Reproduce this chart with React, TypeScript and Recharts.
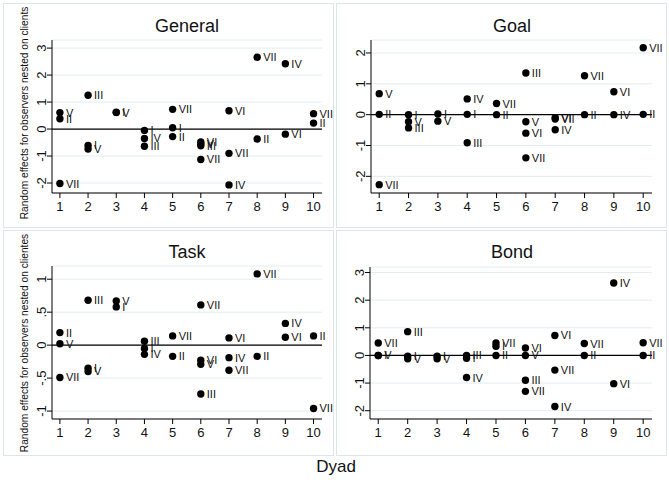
import React from "react";
import {
  ScatterChart,
  Scatter,
  XAxis,
  YAxis,
  CartesianGrid,
  ReferenceLine,
} from "recharts";

// ---------- data ----------
const dyadTicks = [1, 2, 3, 4, 5, 6, 7, 8, 9, 10];

const generalDyad = [1, 1, 1, 2, 2, 2, 3, 3, 4, 4, 4, 5, 5, 5, 6, 6, 6, 6, 7, 7, 7, 8, 8, 9, 9, 10, 10];
const generalValue = [0.61, 0.38, -2.02, 1.25, -0.61, -0.74, 0.62, 0.61, -0.05, -0.35, -0.64, 0.73, 0.05, -0.28, -0.48, -0.55, -0.62, -1.13, 0.68, -0.9, -2.07, 2.66, -0.37, 2.42, -0.19, 0.57, 0.22];
const generalObserver = ["V", "II", "VII", "III", "I", "V", "I", "V", "I", "IV", "III", "VII", "I", "II", "VI", "V", "III", "VII", "VI", "VII", "IV", "VII", "II", "IV", "VI", "VII", "II"];

const goalDyad = [1, 1, 1, 2, 2, 2, 3, 3, 4, 4, 4, 5, 5, 6, 6, 6, 6, 7, 7, 7, 8, 8, 9, 9, 10, 10];
const goalValue = [0.68, 0.01, -2.27, 0.0, -0.23, -0.43, 0.02, -0.21, 0.51, 0.01, -0.91, 0.36, 0.0, 1.35, -0.23, -0.6, -1.4, -0.1, -0.14, -0.49, 1.26, 0.0, 0.74, 0.0, 2.17, 0.01];
const goalObserver = ["V", "II", "VII", "I", "V", "III", "I", "V", "IV", "I", "III", "VII", "II", "III", "V", "VI", "VII", "VI", "VII", "IV", "VII", "II", "VI", "IV", "VII", "II"];

const taskDyad = [1, 1, 1, 2, 2, 2, 3, 3, 4, 4, 4, 5, 5, 6, 6, 6, 6, 7, 7, 7, 8, 8, 9, 9, 10, 10];
const taskValue = [0.19, 0.02, -0.49, 0.68, -0.35, -0.4, 0.67, 0.58, 0.06, -0.05, -0.14, 0.14, -0.17, 0.61, -0.23, -0.29, -0.74, 0.11, -0.19, -0.38, 1.08, -0.17, 0.33, 0.12, 0.14, -0.96];
const taskObserver = ["II", "V", "VII", "III", "I", "V", "V", "I", "III", "I", "IV", "VII", "II", "VII", "VI", "V", "III", "VI", "IV", "VII", "VII", "II", "IV", "VI", "II", "VII"];

const bondDyad = [1, 1, 1, 2, 2, 2, 3, 3, 4, 4, 4, 5, 5, 5, 6, 6, 6, 6, 7, 7, 7, 8, 8, 9, 9, 10, 10];
const bondValue = [0.45, 0.0, 0.0, 0.86, -0.03, -0.12, -0.03, -0.12, 0.0, -0.1, -0.8, 0.45, 0.33, 0.0, 0.27, 0.0, -0.9, -1.3, 0.72, -0.53, -1.85, 0.43, 0.0, 2.62, -1.02, 0.46, 0.0];
const bondObserver = ["VII", "I", "V", "III", "I", "V", "I", "V", "III", "I", "IV", "VII", "I", "II", "VI", "V", "III", "VII", "VI", "VII", "IV", "VII", "II", "IV", "VI", "VII", "II"];

const generalTicks = [-2, -1, 0, 1, 2, 3];
const goalTicks = [-2, -1, 0, 1, 2];
const taskTicks = [-1, -0.5, 0, 0.5, 1];
const bondTicks = [-2, -1, 0, 1, 2, 3];

const yTitleTop = "Random effects for observers nested on clients";
const yTitleBottom = "Random effects for observers nested on clientes";
const xTitle = "Dyad";

// ---------- helpers ----------
const FONT = "'Liberation Sans', Arial, Helvetica, sans-serif";

function build(dyad: number[], value: number[], obs: string[]) {
  return dyad.map((d, i) => ({ dyad: d, value: value[i], label: obs[i] }));
}

function fmtTick(v: number): string {
  if (v === 0) return "0";
  const s = String(v);
  return s.replace("0.", ".");
}

const DotWithLabel = (props: any) => {
  const { cx, cy, payload } = props;
  if (cx == null || cy == null) return null;
  return (
    <g>
      <circle cx={cx} cy={cy} r={3.7} fill="#000" />
      <text
        x={cx + 6}
        y={cy}
        dy="0.36em"
        fontSize={11}
        fontFamily={FONT}
        fill="#111"
      >
        {payload.label}
      </text>
    </g>
  );
};

const YTick = (props: any) => {
  const { x, y, payload } = props;
  return (
    <text
      x={x + 1}
      y={y}
      transform={`rotate(-90, ${x + 1}, ${y})`}
      textAnchor="middle"
      fontSize={13}
      fontFamily={FONT}
      fill="#111"
    >
      {fmtTick(payload.value)}
    </text>
  );
};

const XTick = (props: any) => {
  const { x, y, payload } = props;
  return (
    <text
      x={x}
      y={y}
      dy="0.85em"
      textAnchor="middle"
      fontSize={13}
      fontFamily={FONT}
      fill="#111"
    >
      {payload.value}
    </text>
  );
};

type PanelProps = {
  left: number;
  top: number;
  data: { dyad: number; value: number; label: string }[];
  yDomain: [number, number];
  yTicks: number[];
  margin: { top: number; right: number; bottom: number; left: number };
};

const PW = 330;
const PH = 225;

function Panel({ left, top, data, yDomain, yTicks, margin }: PanelProps) {
  return (
    <div style={{ position: "absolute", left, top, width: PW, height: PH }}>
      <ScatterChart width={PW} height={PH} margin={margin} style={{ overflow: "visible" }}>
        <CartesianGrid vertical={false} stroke="#E3ECEF" strokeWidth={1} />
        <XAxis
          type="number"
          dataKey="dyad"
          domain={[0.72, 10.3]}
          ticks={dyadTicks}
          height={30}
          stroke="#000"
          tickSize={5}
          tick={<XTick />}
          interval={0}
        />
        <YAxis
          type="number"
          dataKey="value"
          domain={yDomain}
          ticks={yTicks}
          width={30}
          stroke="#000"
          tickSize={5}
          tick={<YTick />}
          interval={0}
        />
        <ReferenceLine y={0} stroke="#000" strokeWidth={1.2} />
        <Scatter
          data={data}
          isAnimationActive={false}
          shape={<DotWithLabel />}
        />
      </ScatterChart>
    </div>
  );
}

export default function App() {
  const border = "#DCE6EA";
  return (
    <div
      style={{
        position: "absolute",
        left: 0,
        top: 0,
        width: 669,
        height: 484,
        background: "#fff",
        fontFamily: FONT,
      }}
    >
      <svg
        width={669}
        height={484}
        style={{ position: "absolute", left: 0, top: 0 }}
      >
        <rect x={3.5} y={3.5} width={330} height={224} fill="#fff" stroke={border} />
        <rect x={336.5} y={3.5} width={330} height={224} fill="#fff" stroke={border} />
        <rect x={3.5} y={230.5} width={330} height={225} fill="#fff" stroke={border} />
        <rect x={336.5} y={230.5} width={330} height={225} fill="#fff" stroke={border} />
      </svg>

      <Panel
        left={3}
        top={3}
        data={build(generalDyad, generalValue, generalObserver)}
        yDomain={[-2.37, 3.3]}
        yTicks={generalTicks}
        margin={{ top: 37, right: 11, bottom: 5, left: 19 }}
      />
      <Panel
        left={337}
        top={3}
        data={build(goalDyad, goalValue, goalObserver)}
        yDomain={[-2.54, 2.42]}
        yTicks={goalTicks}
        margin={{ top: 37, right: 15, bottom: 5, left: 4 }}
      />
      <Panel
        left={3}
        top={230}
        data={build(taskDyad, taskValue, taskObserver)}
        yDomain={[-1.12, 1.2]}
        yTicks={taskTicks}
        margin={{ top: 36, right: 11, bottom: 6, left: 19 }}
      />
      <Panel
        left={337}
        top={230}
        data={build(bondDyad, bondValue, bondObserver)}
        yDomain={[-2.3, 3.2]}
        yTicks={bondTicks}
        margin={{ top: 37, right: 15, bottom: 6, left: 3 }}
      />

      <svg
        width={669}
        height={484}
        style={{ position: "absolute", left: 0, top: 0, pointerEvents: "none" }}
      >
        <g fontFamily={FONT} fill="#111">
          <text x={187} y={32} textAnchor="middle" fontSize={18}>General</text>
          <text x={512} y={32} textAnchor="middle" fontSize={18}>Goal</text>
          <text x={187} y={258} textAnchor="middle" fontSize={18}>Task</text>
          <text x={512} y={258} textAnchor="middle" fontSize={18}>Bond</text>
          <text
            x={24}
            y={113}
            transform="rotate(-90, 24, 113)"
            textAnchor="middle"
            dominantBaseline="central"
            fontSize={10.2}
          >
            {yTitleTop}
          </text>
          <text
            x={24}
            y={343}
            transform="rotate(-90, 24, 343)"
            textAnchor="middle"
            dominantBaseline="central"
            fontSize={10.2}
          >
            {yTitleBottom}
          </text>
          <text x={336} y={472} textAnchor="middle" fontSize={17}>{xTitle}</text>
        </g>
      </svg>
    </div>
  );
}
